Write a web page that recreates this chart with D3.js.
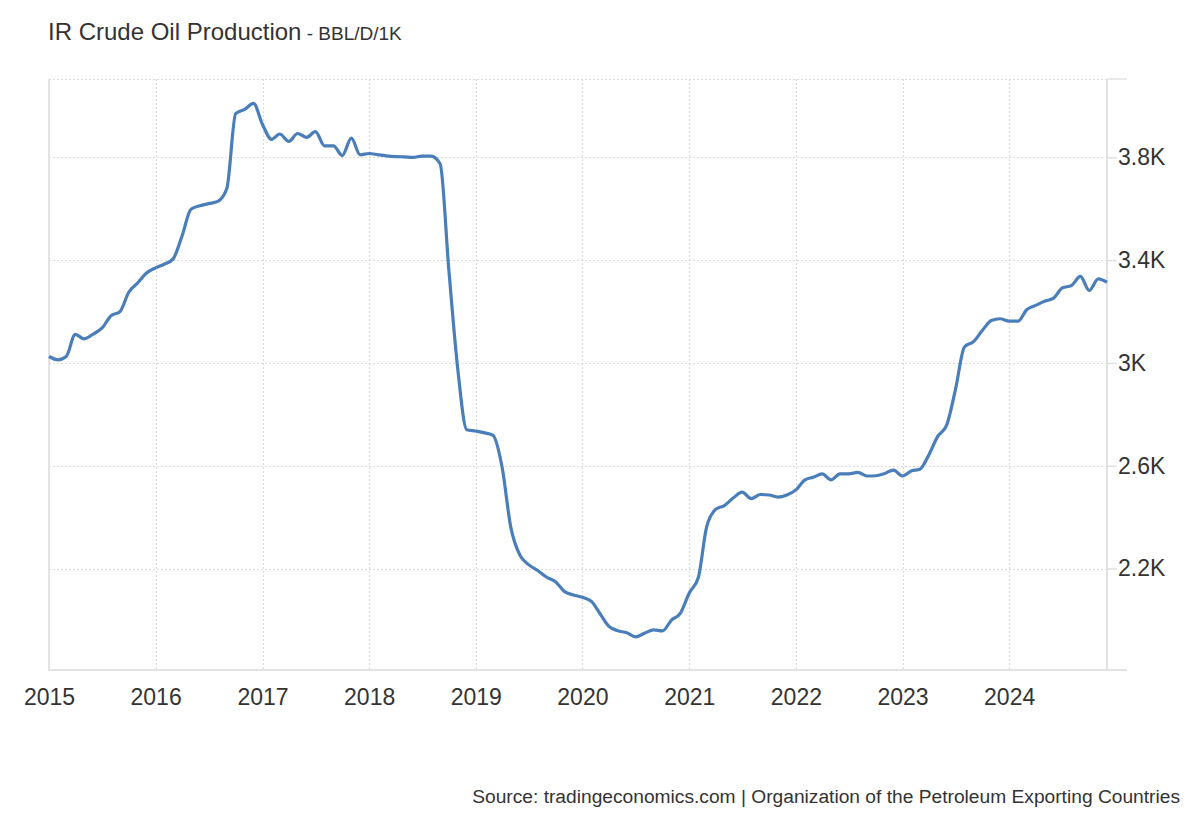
<!DOCTYPE html>
<meta charset="utf-8">
<script src="https://cdn.jsdelivr.net/npm/d3@7"></script>
<style>
  body { margin: 0; background: #fff; }
  text { font-family: "Liberation Sans", Arial, sans-serif; fill: #333; }
</style>
<div id="chart"></div>
<script>
  // monthly crude oil production, thousand barrels per day
  var v2015 = [3025, 3012, 3025, 3111, 3094, 3112, 3135, 3183, 3200, 3275, 3312, 3350];
  var v2016 = [3370, 3385, 3405, 3496, 3598, 3612, 3620, 3629, 3680, 3970, 3987, 4010];
  var v2017 = [3928, 3870, 3891, 3862, 3893, 3878, 3900, 3845, 3845, 3807, 3875, 3810];
  var v2018 = [3815, 3810, 3806, 3803, 3802, 3800, 3805, 3805, 3775, 3360, 2970, 2740];
  var v2019 = [2735, 2728, 2718, 2595, 2360, 2252, 2215, 2192, 2166, 2148, 2110, 2097];
  var v2020 = [2088, 2072, 2025, 1975, 1958, 1950, 1934, 1948, 1961, 1957, 1999, 2025];
  var v2021 = [2105, 2165, 2360, 2430, 2445, 2475, 2497, 2472, 2488, 2486, 2478, 2486];
  var v2022 = [2506, 2545, 2555, 2568, 2545, 2568, 2568, 2574, 2560, 2561, 2570, 2583];
  var v2023 = [2560, 2580, 2586, 2642, 2713, 2758, 2895, 3062, 3083, 3126, 3165, 3172];
  var v2024 = [3163, 3163, 3207, 3224, 3240, 3252, 3292, 3301, 3337, 3282, 3327, 3314];

  var years = [2015, 2016, 2017, 2018, 2019, 2020, 2021, 2022, 2023, 2024];
  var yTicks = [2200, 2600, 3000, 3400, 3800];

  var series = [v2015, v2016, v2017, v2018, v2019, v2020, v2021, v2022, v2023, v2024];
  var data = [];
  series.forEach(function (vals, i) {
    vals.forEach(function (v, m) {
      data.push({ date: new Date(years[i], m, 1), value: v });
    });
  });

  var W = 1200, H = 820;
  var plotLeft = 49, plotRight = 1107, plotTop = 79, plotBottom = 670;

  var svg = d3.select("#chart")
    .append("svg")
    .attr("width", W)
    .attr("height", H);

  var x = d3.scaleTime()
    .domain([data[0].date, data[data.length - 1].date])
    .range([plotLeft, plotRight]);

  var y = d3.scaleLinear()
    .domain([1805, 4105])
    .range([plotBottom, plotTop]);

  // dotted grid
  var grid = svg.append("g")
    .attr("stroke", "#dcdcdc")
    .attr("stroke-width", 1.2)
    .attr("stroke-dasharray", "2,2");

  grid.selectAll("line.h")
    .data(yTicks.concat([y.invert(plotTop)]))
    .enter()
    .append("line")
    .attr("x1", plotLeft)
    .attr("x2", plotRight)
    .attr("y1", function (d) { return Math.round(y(d)) + 0.5; })
    .attr("y2", function (d) { return Math.round(y(d)) + 0.5; });

  grid.selectAll("line.v")
    .data(years.slice(1))
    .enter()
    .append("line")
    .attr("x1", function (d) { return Math.round(x(new Date(d, 0, 1))) + 0.5; })
    .attr("x2", function (d) { return Math.round(x(new Date(d, 0, 1))) + 0.5; })
    .attr("y1", plotTop)
    .attr("y2", plotBottom);

  // axes
  var xAxis = svg.append("g")
    .attr("transform", "translate(0," + plotBottom + ")")
    .call(d3.axisBottom(x)
      .tickValues(years.map(function (d) { return new Date(d, 0, 1); }))
      .tickFormat(d3.timeFormat("%Y"))
      .tickSize(0)
      .tickPadding(19));
  xAxis.select(".domain").remove();
  xAxis.selectAll("text")
    .style("font-size", "23px")
    .attr("fill", "#333");

  var yAxis = svg.append("g")
    .attr("transform", "translate(" + plotRight + ",0)")
    .call(d3.axisRight(y)
      .tickValues(yTicks)
      .tickFormat(function (d) { return (d / 1000) + "K"; })
      .tickSize(10)
      .tickPadding(1));
  yAxis.select(".domain").remove();
  yAxis.selectAll("line").attr("stroke", "#e0e0e0").attr("stroke-width", 1.5);
  yAxis.selectAll("text")
    .style("font-size", "23px")
    .attr("fill", "#333");

  var frame = svg.append("g")
    .attr("stroke", "#e3e3e3")
    .attr("stroke-width", 2)
    .attr("fill", "none");
  frame.append("line").attr("x1", plotLeft).attr("x2", plotLeft).attr("y1", plotTop).attr("y2", plotBottom + 1);
  frame.append("line").attr("x1", plotRight).attr("x2", plotRight).attr("y1", plotTop).attr("y2", plotBottom + 1);
  frame.append("line").attr("x1", plotLeft - 1).attr("x2", plotRight + 20).attr("y1", plotBottom).attr("y2", plotBottom);
  frame.append("line").attr("x1", plotRight).attr("x2", plotRight + 20).attr("y1", plotTop).attr("y2", plotTop)
    .attr("stroke-width", 1.5);

  // the series
  var line = d3.line()
    .x(function (d) { return x(d.date); })
    .y(function (d) { return y(d.value); })
    .curve(d3.curveMonotoneX);

  svg.append("path")
    .datum(data)
    .attr("fill", "none")
    .attr("stroke", "#4a7ebb")
    .attr("stroke-width", 3.2)
    .attr("stroke-linejoin", "round")
    .attr("d", line);

  // title
  var title = svg.append("text")
    .attr("x", 48)
    .attr("y", 40);
  title.append("tspan")
    .style("font-size", "24px")
    .text("IR Crude Oil Production");
  title.append("tspan")
    .style("font-size", "19px")
    .text(" - BBL/D/1K");

  // source
  svg.append("text")
    .attr("x", 1180)
    .attr("y", 803)
    .attr("text-anchor", "end")
    .style("font-size", "19.2px")
    .text("Source: tradingeconomics.com | Organization of the Petroleum Exporting Countries");
</script>
